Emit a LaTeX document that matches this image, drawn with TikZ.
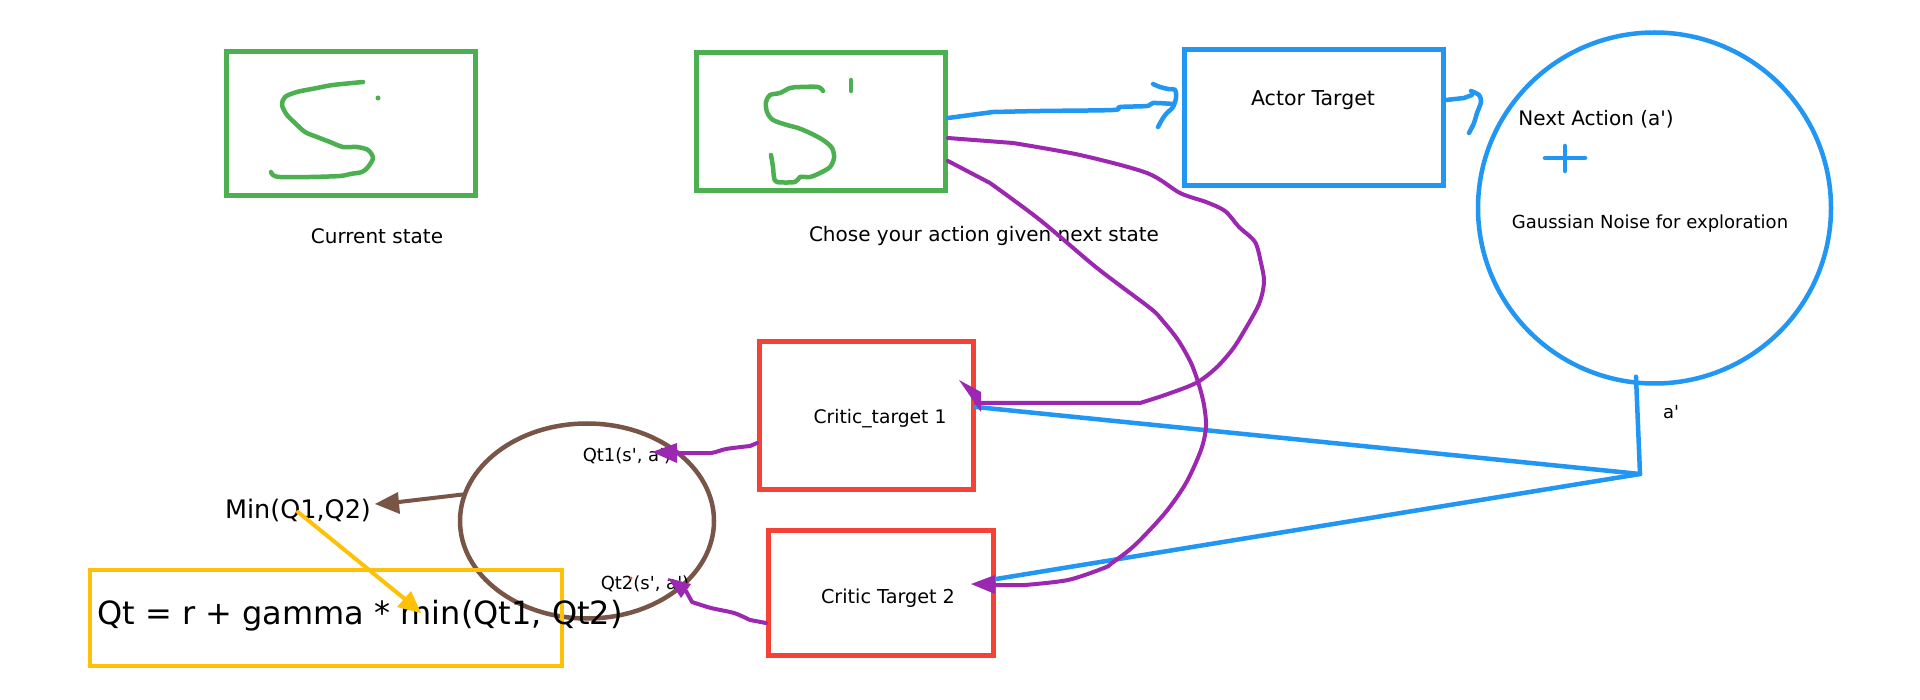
\documentclass[tikz,border=0pt]{standalone}
\usepackage{fontspec}
\setmainfont{DejaVu Sans}[Ligatures=TeXOff]
\usetikzlibrary{arrows.meta,shapes.geometric,calc}
\definecolor{cgreen}{HTML}{4CAF50}
\definecolor{cblue}{HTML}{2196F3}
\definecolor{cred}{HTML}{F44336}
\definecolor{cpurple}{HTML}{9C27B0}
\definecolor{cbrown}{HTML}{795548}
\definecolor{cyellow}{HTML}{FFC107}
\begin{document}
\begin{tikzpicture}[x=1pt,y=-1pt,
  box/.style={draw=#1,line width=5pt,inner sep=0pt},
  txt/.style={font=\fontsize{18}{22}\selectfont,inner sep=0pt},
  bigtxt/.style={font=\fontsize{20}{24}\selectfont,inner sep=0pt},
  pen/.style={draw=#1,line width=4.5pt,line cap=round,line join=round},
  thin pen/.style={draw=#1,line width=4pt,line cap=round,line join=round}]
\useasboundingbox[fill=white] (0,0) rectangle (1920,700);

% boxes and shapes
\node[box=cgreen,minimum width=249pt,minimum height=144pt] (s) at (351,123.5) {};
\node[box=cgreen,minimum width=249pt,minimum height=138pt] (sp) at (821,121.5) {};
\node[box=cblue,minimum width=259pt,minimum height=136pt] (act) at (1314,117.5) {};
\node[box=cblue,line width=4.5pt,ellipse,minimum width=353pt,minimum height=351pt] (na) at (1654.5,208) {};
\node[box=cred,minimum width=214pt,minimum height=148pt] (c1) at (866.5,415.5) {};
\node[box=cred,minimum width=225pt,minimum height=125pt] (c2) at (881,593) {};
\node[draw=cbrown,line width=4.5pt,ellipse,inner sep=0pt,minimum width=254pt,minimum height=195pt] (el) at (587,521) {};
\node[draw=cyellow,line width=4pt,inner sep=0pt,minimum width=472pt,minimum height=96pt] (yb) at (326,618) {};

% texts
\node[bigtxt] (lcur) at (377,236) {Current state};
\node[bigtxt] (lchose) at (984,236) {Chose your action given next state};
\node[font=\fontsize{20.5}{24}\selectfont,inner sep=0pt] (lactor) at (1313,100) {Actor Target};
\node[bigtxt] (lnext) at (1596,119) {Next Action (a')};
\node[txt] (lgauss) at (1650,224) {Gaussian Noise for exploration};
\node[font=\fontsize{18.7}{22}\selectfont,inner sep=0pt] (lc1) at (880,419) {Critic\_target 1};
\node[font=\fontsize{19.2}{22}\selectfont,inner sep=0pt] (lc2) at (888,598) {Critic Target 2};
\node[txt] (la) at (1671,412) {a'};
\node[txt] (lqt1) at (627,456) {Qt1(s', a')};
\node[txt] (lqt2) at (645,584) {Qt2(s', a')};
\node[font=\fontsize{25.5}{30}\selectfont,inner sep=0pt] (lmin) at (298,510) {Min(Q1,Q2)};
\node[font=\fontsize{32}{38}\selectfont,inner sep=0pt] (lqt) at (360,616) {Qt = r + gamma * min(Qt1, Qt2)};
\fill[cred] (631,578) circle (1.5);

% hand-drawn S
\draw[pen=cgreen] plot[smooth,tension=0.5] coordinates {(363,82) (333,85) (317,88) (297,92) (285,97) (282,105) (287,115) (295,123) (305,132) (317,137) (330,142) (343,147) (357,147) (368,150) (373,158) (368,167) (362,172) (350,174) (340,176) (310,177) (280,177) (273,175) (271,172)};
\fill[cgreen] (378,98) circle (2.5);
% hand-drawn S'
\draw[pen=cgreen] plot[smooth,tension=0.5] coordinates {(823,91) (818,87) (800,87) (790,88) (780,93) (770,95) (766,102) (767,112) (773,120) (787,125) (798,128) (810,133) (823,140) (832,148) (834,158) (830,167) (820,173) (810,177) (800,177) (795,182) (777,182) (774,177) (773,167) (771,155)};
\draw[pen=cgreen] (851,80) -- (851,91);

% S' -> Actor Target
\draw[pen=cblue] ([yshift=3.5pt]sp.east) -- plot[smooth,tension=0.5] coordinates {(993,112) (1040,111) (1113,110) (1120,107) (1147,106) (1153,103) (1173,104)};
\draw[pen=cblue] plot[smooth,tension=0.5] coordinates {(1153,84) (1160,87) (1168,89) (1175,90) (1176,98) (1173,107) (1167,113) (1163,118) (1158,127)};

% Actor Target -> Next action
\draw[pen=cblue] ([yshift=17.5pt]act.east) -- (1464,98) -- (1472,95);
\draw[pen=cblue] plot[smooth,tension=0.5] coordinates {(1471,91) (1479,95) (1481,102) (1477,113) (1474,123) (1469,133)};
\draw[pen=cblue] (1545,158) -- (1585,158) (1565,146) -- (1565,171);

% a' to critics
\coordinate (j) at (1640,474);
\draw[pen=cblue] ($(na.south)+(-18.5,-9)$) -- (j);
\draw[pen=cblue] (j) -- ([yshift=8.5pt]c1.east);
\draw[pen=cblue] (j) -- ([yshift=14pt]c2.east);

% S' -> critic 1
\draw[thin pen=cpurple] ([yshift=-16.5pt]sp.east) -- plot[smooth,tension=0.5] coordinates {(1013,143) (1080,155) (1147,173) (1180,193) (1206,202) (1225,211) (1239,227) (1255,242) (1261,263) (1264,282) (1259,304) (1243,333) (1232,350) (1216,368) (1196,383) (1165,395) (1140,403)} -- ([yshift=12.5pt]c1.east);
\fill[cpurple] (959,380) -- (981,392) -- (981,412) -- cycle;
% S' -> critic 2
\draw[thin pen=cpurple] ([yshift=-39.5pt]sp.east) -- plot[smooth,tension=0.5] coordinates {(990,183) (1040,220) (1097,268) (1150,308) (1162,320) (1178,340) (1191,363) (1199,385) (1204,405) (1206,427) (1201,450) (1186,483) (1165,513) (1135,545) (1112,563) (1104,568) (1068,580) (1025,585)} -- (994,585);
\fill[cpurple] (971,584) -- (995,575) -- (995,594) -- cycle;

% critics -> ellipse
\draw[thin pen=cpurple] ([yshift=-27.5pt]c1.west) -- plot[smooth,tension=0.5] coordinates {(750,446) (726,449) (711,453) (688,453)} -- (676,453);
\fill[cpurple] (652,452) -- (677,443) -- (677,463) -- cycle;
\draw[thin pen=cpurple] ([yshift=-30pt]c2.west) -- plot[smooth,tension=0.5] coordinates {(750,620) (734,613) (711,608) (692,602)} -- (686,591);
\fill[cpurple] (668,578) -- (691,584) -- (681,598) -- cycle;

% ellipse -> Min
\draw[thin pen=cbrown] (el.168) -- (399,502);
\fill[cbrown] (375,504) -- (398,492) -- (400,514) -- cycle;

% Min -> formula
\draw[thin pen=cyellow] ([yshift=-2pt]lmin.center) -- (406,600);
\fill[cyellow] (421,613) -- (397,607) -- (411,591) -- cycle;
\end{tikzpicture}
\end{document}
